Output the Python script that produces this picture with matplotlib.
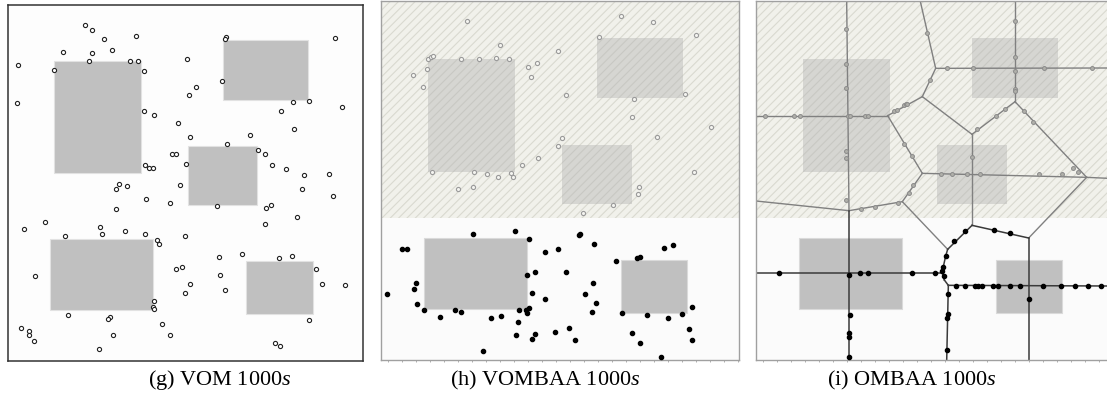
import numpy as np
import matplotlib.pyplot as plt
from matplotlib.patches import Rectangle

plt.rcParams['mathtext.fontset'] = 'custom'
plt.rcParams['mathtext.rm'] = 'Liberation Serif'
plt.rcParams['mathtext.it'] = 'Liberation Serif:italic'
plt.rcParams['hatch.linewidth'] = 0.8

# 座標は各パネルの 1/3 px 単位 (左上原点)
# --- (g) VOM ---
g_rects = [(163, 183, 424, 520), (669, 121, 925, 300), (564, 438, 770, 615),
           (150, 717, 458, 930), (737, 783, 938, 941)]
g_x = [254, 275, 311, 408, 190, 277, 337, 54, 266, 390, 413, 161, 433, 560, 677, 675, 1005, 667, 587, 568,
       50, 433, 461, 878, 926, 1026, 843, 533, 883, 570, 750, 682, 773, 516, 527, 795, 557, 817, 434, 446,
       458, 857, 913, 986, 356, 347, 380, 540, 906, 998, 439, 509, 650, 812, 797, 347, 891, 134, 795, 71,
       300, 305, 374, 435, 196, 554, 472, 476, 658, 726, 836, 877, 547, 528, 947, 106, 660, 569, 966, 1034,
       674, 556, 463, 458, 461, 203, 331, 323, 926, 487, 63, 86, 86, 339, 511, 101, 296, 825, 840]
g_y = [75, 90, 118, 107, 155, 160, 150, 195, 182, 182, 182, 210, 212, 178, 110, 117, 113, 244, 262, 285,
       308, 332, 345, 306, 302, 320, 332, 368, 386, 411, 405, 431, 449, 463, 461, 463, 493, 494, 496, 505,
       503, 506, 524, 521, 552, 566, 559, 554, 566, 587, 598, 610, 617, 614, 623, 626, 651, 666, 671, 688,
       681, 701, 694, 701, 707, 707, 719, 733, 771, 763, 773, 767, 800, 806, 807, 827, 825, 852, 851, 854,
       869, 878, 902, 920, 927, 944, 951, 956, 960, 971, 983, 994, 1006, 1004, 1004, 1024, 1046, 1028, 1039]

# --- (h) VOMBAA / (i) OMBAA 共通の障害物 ---
hi_rects = [(160, 178, 421, 515), (667, 115, 925, 295), (562, 434, 770, 611),
            (146, 713, 455, 927), (737, 780, 937, 938)]
split_y = 655  # 上: 未確定領域 (斜線)

h_up_x = [276, 738, 833, 964, 672, 374, 548, 159, 167, 175, 258, 312, 362, 402, 458, 486, 157, 114, 467, 143,
          573, 930, 778, 771, 1008, 845, 560, 548, 488, 441, 170, 297, 336, 368, 407, 414, 956, 250, 295, 791,
          789, 714, 623]
h_up_y = [62, 48, 66, 104, 111, 134, 152, 176, 171, 167, 177, 177, 174, 177, 202, 190, 208, 225, 230, 260,
          285, 281, 296, 350, 380, 410, 414, 437, 473, 494, 516, 516, 522, 531, 518, 531, 516, 568, 561, 561,
          581, 615, 638]
h_lo_x = [293, 420, 462, 615, 611, 657, 81, 97, 548, 511, 866, 894, 723, 786, 795, 456, 481, 573, 123, 118,
          655, 37, 470, 629, 511, 125, 662, 147, 239, 259, 432, 452, 461, 455, 651, 741, 815, 878, 920, 952,
          196, 348, 377, 428, 422, 472, 481, 539, 582, 600, 770, 795, 943, 952, 325, 857]
h_lo_y = [701, 692, 718, 701, 706, 732, 748, 748, 746, 757, 744, 736, 783, 775, 770, 826, 815, 815, 849, 867,
          850, 882, 878, 882, 898, 912, 910, 929, 929, 936, 931, 929, 923, 940, 936, 940, 944, 953, 943, 920,
          951, 955, 949, 966, 1005, 1018, 1002, 996, 983, 1020, 998, 1030, 986, 1020, 1052, 1072]

# (i) のグラフ: ノードと辺
nodes = {'A': (413, 347), 'B': (517, 290), 'C': (517, 520), 'D': (557, 205), 'E': (795, 305),
         'F': (666, 403), 'G': (1010, 532), 'H': (666, 676), 'I': (457, 605), 'J': (297, 632),
         'K': (593, 748), 'L': (836, 714), 'M': (595, 856),
         't1': (290, 0), 't2': (510, 0), 't3': (795, 0), 'l1': (18, 347), 'l2': (18, 603), 'l3': (18, 820),
         'r1': (1075, 204), 'r2': (1075, 535), 'r3': (1075, 858), 'b1': (297, 1085), 'b2': (590, 1085),
         'b3': (836, 1085), 'k1': (587, 768), 'k2': (580, 800), 'k3': (577, 820), 'k4': (583, 840)}
up_edges = [('t1', 'J'), ('l1', 'A'), ('A', 'B'), ('A', 'C'), ('B', 'D'), ('D', 't2'), ('D', 'r1'),
            ('t3', 'E'), ('E', 'F'), ('E', 'G'), ('B', 'F'), ('F', 'H'), ('C', 'G'), ('G', 'r2'),
            ('C', 'I'), ('I', 'J'), ('J', 'l2'), ('I', 'K'), ('G', 'L')]
lo_edges = [('J', 'b1'), ('H', 'L'), ('H', 'K'), ('K', 'k1'), ('k1', 'k2'), ('k2', 'k3'), ('k3', 'k4'),
            ('k4', 'M'), ('M', 'r3'), ('M', 'b2'), ('L', 'b3'), ('l3', 'k3')]
i_up_x = [287, 288, 288, 288, 288, 288, 44, 131, 149, 293, 300, 344, 354, 432, 440, 462, 467, 470, 530, 540,
          591, 670, 882, 1027, 795, 795, 795, 795, 795, 764, 737, 680, 822, 849, 968, 983, 463, 486, 573, 607,
          652, 690, 866, 936, 666, 490, 476, 444, 374, 334]
i_up_y = [88, 192, 265, 453, 474, 600, 347, 347, 347, 347, 347, 347, 347, 333, 330, 316, 313, 313, 98, 240,
          204, 204, 204, 204, 62, 170, 214, 268, 272, 327, 347, 387, 333, 366, 503, 515, 433, 469, 522, 522,
          522, 522, 522, 522, 470, 556, 580, 609, 621, 628]
i_lo_x = [646, 613, 733, 779, 587, 580, 577, 583, 86, 298, 330, 355, 485, 555, 617, 645, 675, 683, 697, 728,
          745, 779, 810, 880, 934, 974, 1015, 1054, 595, 593, 592, 590, 300, 298, 298, 298, 836]
i_lo_y = [694, 724, 690, 698, 768, 800, 812, 828, 820, 826, 820, 820, 820, 820, 858, 858, 858, 858, 858, 858,
          858, 858, 858, 858, 858, 858, 858, 858, 882, 941, 955, 1051, 944, 1000, 1010, 1070, 897]

captions = ['(g) VOM 1000$s$', '(h) VOMBAA 1000$s$', '(i) OMBAA 1000$s$']
caption_x = [220, 545, 912]

#--------------------------------------------
W, H = 1107, 396
fig = plt.figure(figsize=(W / 100, H / 100), dpi=100, facecolor='white')


def make_ax(x0, y0, x1, y1, xlim, ylim):
    ax = fig.add_axes([x0 / W, 1 - y1 / H, (x1 - x0) / W, (y1 - y0) / H])
    ax.set_xlim(*xlim)
    ax.set_ylim(ylim[1], ylim[0])
    ax.set_xticks([])
    ax.set_yticks([])
    return ax


def add_rect(ax, r, **kw):
    ax.add_patch(Rectangle((r[0], r[1]), r[2] - r[0], r[3] - r[1], **kw))


# (g)
axg = make_ax(8.3, 5, 363.3, 361, (25, 1090), (15, 1083))
axg.set_facecolor('#fdfdfd')
for r in g_rects:
    add_rect(axg, r, facecolor='#c0c0c0', edgecolor='#e2e2e2', lw=0.8)
axg.plot(g_x, g_y, 'o', ms=3, mfc='white', mec='#222222', mew=0.8)
for s in axg.spines.values():
    s.set_color('#333333')
    s.set_linewidth(1.1)


def hatched_panel(ax, xlim):
    ax.set_facecolor('#fbfbfb')
    ax.add_patch(Rectangle((xlim[0], 0), xlim[1] - xlim[0], split_y, facecolor='#f1f1eb',
                           edgecolor='#d9d9d0', hatch='////', lw=0, zorder=0))
    for r in hi_rects:
        if r[1] < split_y:
            add_rect(ax, r, facecolor='#d6d6d2', edgecolor='#c8c8c3', hatch='////', lw=0, zorder=1)
        else:
            add_rect(ax, r, facecolor='#c0c0c0', edgecolor='#dadada', lw=0.8, zorder=1)
    for s in ax.spines.values():
        s.set_color('#a0a0a0')
        s.set_linewidth(1.0)
    ax.set_xticks(np.arange(xlim[0] + 20, xlim[1], 42))
    ax.tick_params(axis='x', length=1.5, width=0.6, color='#a0a0a0', labelbottom=False)


# (h)
axh = make_ax(381, 1, 739, 360, (18, 1092), (3, 1080))
hatched_panel(axh, (18, 1092))
axh.plot(h_up_x, h_up_y, 'o', ms=3, mfc='#f4f4f0', mec='#9a9a9a', mew=0.8, zorder=3)
axh.plot(h_lo_x, h_lo_y, 'o', ms=3, color='black', zorder=3)

# (i)
axi = make_ax(756, 1, 1110, 360, (18, 1080), (3, 1080))
hatched_panel(axi, (18, 1080))
for a, b in up_edges:
    axi.plot([nodes[a][0], nodes[b][0]], [nodes[a][1], nodes[b][1]], color='#808080', lw=1.0, zorder=2)
for a, b in lo_edges:
    axi.plot([nodes[a][0], nodes[b][0]], [nodes[a][1], nodes[b][1]], color='#3a3a3a', lw=1.1, zorder=2)
axi.plot(i_up_x, i_up_y, 'o', ms=2.8, mfc='#b0b0aa', mec='#8a8a8a', mew=0.7, zorder=3)
axi.plot(i_lo_x, i_lo_y, 'o', ms=3, color='black', zorder=3)
axi.spines['right'].set_visible(False)

for c, cx in zip(captions, caption_x):
    fig.text(cx / W, 1 - 380 / H, c, ha='center', va='center', fontsize=16,
             family='Liberation Serif')

plt.savefig('out.png', dpi=100, facecolor='white')
